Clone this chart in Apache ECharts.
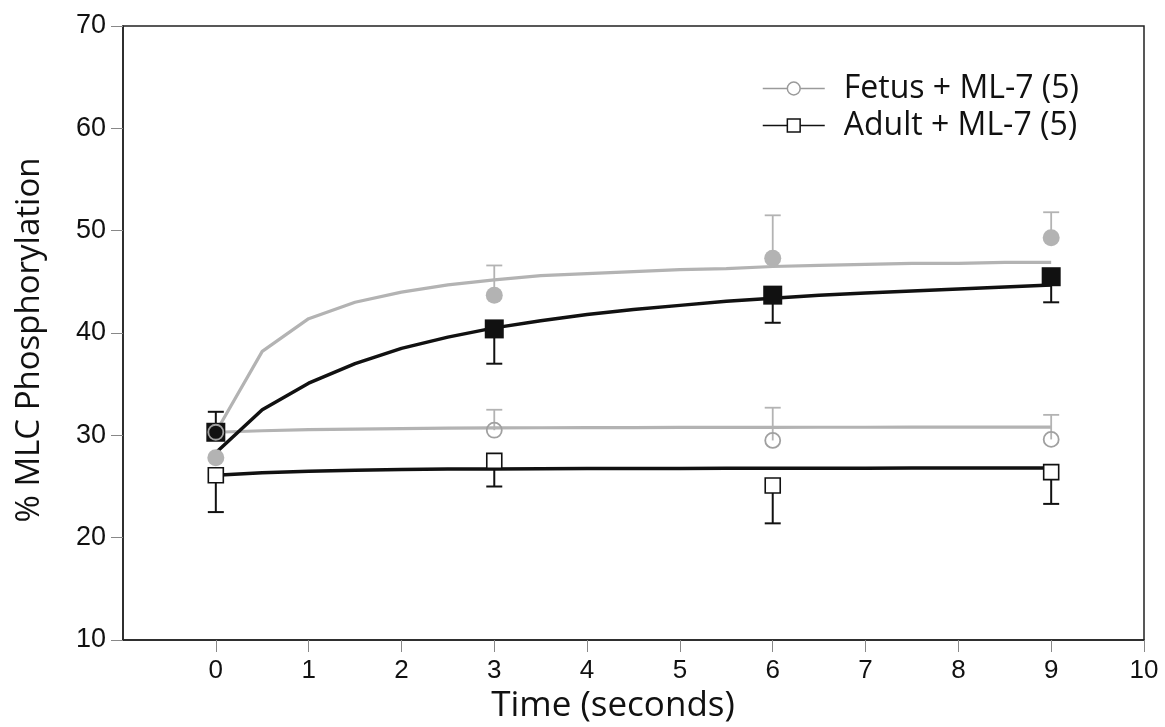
<!DOCTYPE html>
<html>
<head>
<meta charset="utf-8">
<script src="https://cdn.jsdelivr.net/npm/echarts@6/dist/echarts.min.js"></script>
<style>
  html, body { margin: 0; padding: 0; background: #fff; }
  #chart { width: 1165px; height: 727px; }
</style>
</head>
<body>
<div id="chart"></div>
<script>
// Sampling times (s) for the measured means
const times = [0, 3, 6, 9];

// Mean % MLC phosphorylation at each time
const fetusMeans    = [27.8, 43.7, 47.3, 49.3];
const adultMeans    = [30.3, 40.4, 43.7, 45.5];
const fetusMl7Means = [30.3, 30.5, 29.5, 29.6];
const adultMl7Means = [26.1, 27.5, 25.1, 26.4];

// One-sided SEM bars: positive = drawn above the mean, negative = below
const fetusErr    = [0, 2.9, 4.2, 2.5];
const adultErr    = [2.0, -3.4, -2.7, -2.5];
const fetusMl7Err = [0, 2.0, 3.2, 2.4];
const adultMl7Err = [-3.6, -2.5, -3.7, -3.1];

// Fitted time courses, sampled every 0.5 s
const fitTimes = [0, 0.5, 1, 1.5, 2, 2.5, 3, 3.5, 4, 4.5, 5, 5.5, 6, 6.5, 7, 7.5, 8, 8.5, 9];
const fetusFit    = [30.3, 38.2, 41.4, 43.0, 44.0, 44.7, 45.2, 45.6, 45.8, 46.0, 46.2, 46.3, 46.5, 46.6, 46.7, 46.8, 46.8, 46.9, 46.9];
const adultFit    = [28.3, 32.5, 35.1, 37.0, 38.5, 39.6, 40.5, 41.2, 41.8, 42.3, 42.7, 43.1, 43.4, 43.7, 43.9, 44.1, 44.3, 44.5, 44.7];
const fetusMl7Fit = [30.3, 30.45, 30.55, 30.6, 30.65, 30.7, 30.72, 30.74, 30.75, 30.76, 30.77, 30.78, 30.78, 30.79, 30.79, 30.8, 30.8, 30.8, 30.8];
const adultMl7Fit = [26.1, 26.35, 26.5, 26.6, 26.65, 26.7, 26.72, 26.74, 26.75, 26.76, 26.77, 26.78, 26.78, 26.79, 26.79, 26.8, 26.8, 26.8, 26.8];

// Axis ticks
const xTicks = [0, 1, 2, 3, 4, 5, 6, 7, 8, 9, 10];
const yTicks = [10, 20, 30, 40, 50, 60, 70];

const legendNames = ['Fetus + ML-7 (5)', 'Adult + ML-7 (5)'];

const GRAY = '#b3b3b3';
const BLACK = '#111111';

const pts = (xs, ys) => xs.map((x, i) => [x, ys[i]]);
const errData = (means, errs) => times.map((t, i) => [t, means[i], errs[i]]);

function errorSeries(name, means, errs, color, width) {
  return {
    type: 'custom',
    name: name,
    silent: true,
    z: 1,
    encode: { x: 0, y: 1 },
    data: errData(means, errs),
    renderItem: function (params, api) {
      const t = api.value(0), m = api.value(1), e = api.value(2);
      if (!e) return null;
      const p0 = api.coord([t, m]);
      const p1 = api.coord([t, m + e]);
      const half = 8;
      const style = { stroke: color, lineWidth: width };
      return {
        type: 'group',
        children: [
          { type: 'line', shape: { x1: p0[0], y1: p0[1], x2: p1[0], y2: p1[1] }, style: style },
          { type: 'line', shape: { x1: p1[0] - half, y1: p1[1], x2: p1[0] + half, y2: p1[1] }, style: style }
        ]
      };
    }
  };
}

function fitSeries(name, ys, color, width) {
  return {
    type: 'line',
    name: name,
    data: pts(fitTimes, ys),
    symbol: 'none',
    silent: true,
    z: 2,
    lineStyle: { color: color, width: width },
    emphasis: { disabled: true }
  };
}

const chart = echarts.init(document.getElementById('chart'), null, { renderer: 'canvas' });

chart.setOption({
  animation: false,
  backgroundColor: '#ffffff',
  grid: {
    left: 123, right: 21, top: 26, bottom: 87,
    show: true, borderColor: '#222', borderWidth: 1.5, backgroundColor: 'transparent'
  },
  legend: {
    orient: 'vertical',
    left: 762,
    top: 70,
    padding: 0,
    itemGap: 0,
    itemWidth: 62,
    itemHeight: 16,
    selectedMode: false,
    textStyle: {
      fontFamily: 'Open Sans',
      fontSize: 32,
      color: '#111',
      lineHeight: 37,
      padding: [0, 0, 0, 14]
    },
    data: [
      {
        name: legendNames[0],
        lineStyle: { opacity: 1, color: '#9a9a9a', width: 1.5 },
        itemStyle: { color: '#fff', borderColor: '#9a9a9a', borderWidth: 1.5 }
      },
      {
        name: legendNames[1],
        lineStyle: { opacity: 1, color: BLACK, width: 1.5 },
        itemStyle: { color: '#fff', borderColor: BLACK, borderWidth: 1.5 }
      }
    ]
  },
  xAxis: {
    type: 'value',
    min: -1,
    max: 10,
    interval: 1,
    axisLine: { show: true, onZero: false, lineStyle: { color: '#222', width: 1.5 } },
    axisTick: { show: true, inside: false, length: 12, customValues: xTicks, lineStyle: { color: '#888', width: 1 } },
    axisLabel: {
      customValues: xTicks,
      margin: 18,
      fontFamily: 'Liberation Sans',
      fontSize: 26,
      color: '#111'
    },
    splitLine: { show: false }
  },
  yAxis: {
    type: 'value',
    min: 10,
    max: 70,
    interval: 10,
    axisLine: { show: true, onZero: false, lineStyle: { color: '#222', width: 1.5 } },
    axisTick: { show: true, inside: false, length: 12, customValues: yTicks, lineStyle: { color: '#888', width: 1 } },
    axisLabel: {
      customValues: yTicks,
      margin: 17,
      fontFamily: 'Liberation Sans',
      fontSize: 27,
      color: '#111'
    },
    splitLine: { show: false }
  },
  graphic: [
    {
      type: 'text',
      x: 613, y: 706,
      style: {
        text: 'Time (seconds)',
        fontFamily: 'Open Sans', fontSize: 35, fill: '#111',
        align: 'center', verticalAlign: 'middle'
      }
    },
    {
      type: 'text',
      x: 30, y: 340,
      rotation: Math.PI / 2,
      style: {
        text: '% MLC Phosphorylation',
        fontFamily: 'Open Sans', fontSize: 33, fill: '#111',
        align: 'center', verticalAlign: 'middle'
      }
    }
  ],
  series: [
    errorSeries('fetus-err', fetusMeans, fetusErr, GRAY, 1.8),
    errorSeries('fetusMl7-err', fetusMl7Means, fetusMl7Err, GRAY, 1.8),
    errorSeries('adult-err', adultMeans, adultErr, BLACK, 2),
    errorSeries('adultMl7-err', adultMl7Means, adultMl7Err, BLACK, 2),

    fitSeries('fetus-fit', fetusFit, GRAY, 3.2),
    fitSeries('fetusMl7-fit', fetusMl7Fit, GRAY, 3.2),
    fitSeries('adult-fit', adultFit, BLACK, 3.5),
    fitSeries('adultMl7-fit', adultMl7Fit, BLACK, 3.5),

    {
      type: 'scatter',
      name: 'Fetus',
      data: pts(times, fetusMeans),
      symbol: 'circle',
      symbolSize: 17,
      z: 3,
      itemStyle: { color: GRAY, opacity: 1 },
      emphasis: { disabled: true }
    },
    {
      type: 'scatter',
      name: 'Adult',
      data: pts(times, adultMeans),
      symbol: 'rect',
      symbolSize: 19,
      z: 3,
      itemStyle: { color: BLACK, opacity: 1 },
      emphasis: { disabled: true }
    },
    {
      type: 'line',
      name: legendNames[1],
      data: pts(times, adultMl7Means),
      symbol: 'rect',
      symbolSize: 15,
      showSymbol: true,
      z: 4,
      lineStyle: { opacity: 0 },
      itemStyle: { color: '#fff', borderColor: BLACK, borderWidth: 1.6 },
      emphasis: { disabled: true }
    },
    {
      type: 'line',
      name: legendNames[0],
      data: pts(times, fetusMl7Means),
      symbol: 'circle',
      symbolSize: 15,
      showSymbol: true,
      z: 5,
      lineStyle: { opacity: 0 },
      itemStyle: { color: 'rgba(255,255,255,0)', borderColor: '#a0a0a0', borderWidth: 1.8 },
      emphasis: { disabled: true }
    }
  ]
});
</script>
</body>
</html>
